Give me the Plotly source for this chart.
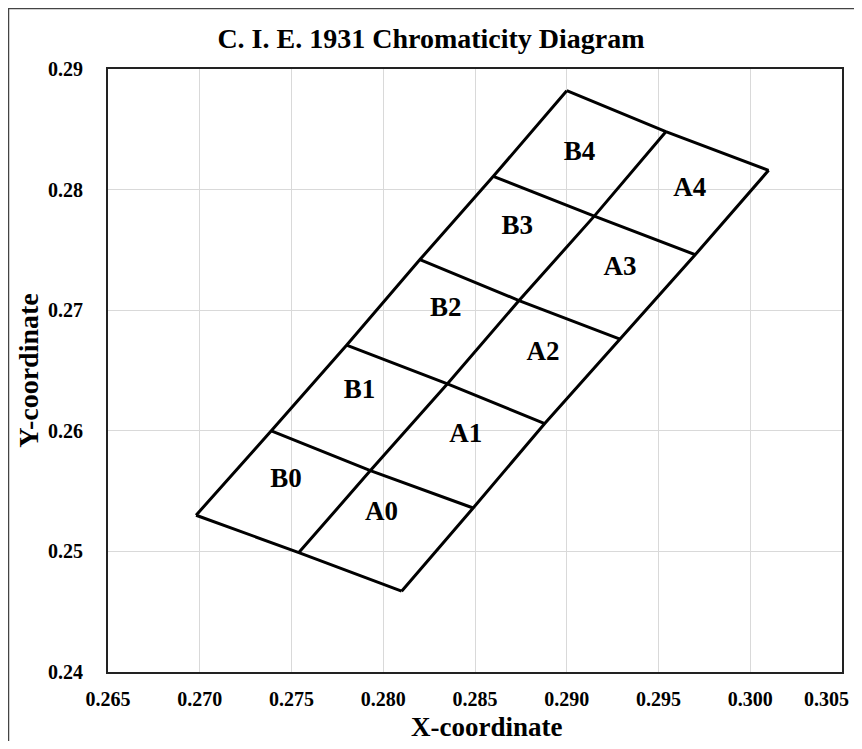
import plotly.graph_objects as go

# Grid points of the bin parallelogram
left_x = [0.2698, 0.2739, 0.2780, 0.2820, 0.2860, 0.2900]
left_y = [0.2530, 0.2600, 0.2671, 0.2742, 0.2811, 0.2882]
mid_x = [0.2754, 0.2793, 0.2835, 0.2874, 0.2915, 0.2954]
mid_y = [0.2499, 0.2567, 0.2639, 0.2708, 0.2778, 0.2848]
right_x = [0.2810, 0.2849, 0.2888, 0.2929, 0.2970, 0.3010]
right_y = [0.2467, 0.2536, 0.2606, 0.2676, 0.2746, 0.2816]

# Bin labels
bin_names = ["B0", "A0", "B1", "A1", "B2", "A2", "B3", "A3", "B4", "A4"]
bin_x = [0.2747, 0.2799, 0.2787, 0.2845, 0.2834, 0.2887, 0.2873, 0.2929, 0.2907, 0.2967]
bin_y = [0.2559, 0.2532, 0.2633, 0.2596, 0.2701, 0.2664, 0.2769, 0.2735, 0.2830, 0.2800]

x_ticks = [0.265, 0.270, 0.275, 0.280, 0.285, 0.290, 0.295, 0.300, 0.305]
x_tick_labels = ["0.265", "0.270", "0.275", "0.280", "0.285", "0.290", "0.295", "0.300", "0.305"]
y_ticks = [0.24, 0.25, 0.26, 0.27, 0.28, 0.29]

FONT = "Liberation Serif, Times New Roman, serif"
line_style = dict(color="black", width=3)
tick_font = dict(family=FONT, size=20, color="black", weight="bold")
axis_title_font = dict(family=FONT, size=28, color="black", weight="bold")

fig = go.Figure()
for xs, ys in [(left_x, left_y), (mid_x, mid_y), (right_x, right_y)]:
    fig.add_trace(go.Scatter(x=xs, y=ys, mode="lines", line=line_style,
                             hoverinfo="skip", showlegend=False))
for i in range(len(left_x)):
    fig.add_trace(go.Scatter(x=[left_x[i], mid_x[i], right_x[i]],
                             y=[left_y[i], mid_y[i], right_y[i]],
                             mode="lines", line=line_style,
                             hoverinfo="skip", showlegend=False))
fig.add_trace(go.Scatter(x=bin_x, y=bin_y, mode="text", text=bin_names,
                         textfont=dict(family=FONT, size=27, color="black", weight="bold"),
                         showlegend=False, hoverinfo="skip"))

# page body adds an 8px margin, so the figure is sized/offset to compensate
W, H = 846, 733
ml, mr, mt, mb = 100, 12, 61, 69
pw, ph = W - ml - mr, H - mt - mb

# last x tick label is pulled inside the chart (as in the original)
shown_ticktext = x_tick_labels[:-1] + [""]

fig.update_layout(
    width=W, height=H,
    margin=dict(l=ml, r=mr, t=mt, b=mb),
    paper_bgcolor="white", plot_bgcolor="white",
    title=dict(text="C. I. E. 1931 Chromaticity Diagram", x=0.5, xref="container",
               y=1 - 30 / H, yref="container", yanchor="middle", xanchor="center",
               font=dict(family=FONT, size=28, color="black", weight="bold")),
    xaxis=dict(range=[0.265, 0.305], tickvals=x_ticks, ticktext=shown_ticktext,
               automargin=False, ticklabeloverflow="allow",
               showgrid=True, gridcolor="#d9d9d9", gridwidth=1,
               zeroline=False, showline=True, linecolor="#222", linewidth=2, mirror=True,
               ticks="", ticklabelstandoff=8, tickfont=tick_font),
    yaxis=dict(range=[0.24, 0.29], tickvals=y_ticks, tickformat=".2f",
               automargin=False, ticklabeloverflow="allow",
               showgrid=True, gridcolor="#d9d9d9", gridwidth=1,
               zeroline=False, showline=True, linecolor="#222", linewidth=2, mirror=True,
               ticks="", ticklabelstandoff=19, tickfont=tick_font,
               title=dict(text="Y-coordinate", standoff=1, font=axis_title_font)),
    annotations=[
        dict(text=x_tick_labels[-1], xref="paper", yref="paper",
             x=(843 - ml) / pw, y=-(27) / ph, xanchor="right", yanchor="middle",
             showarrow=False, font=tick_font),
        dict(text="X-coordinate", xref="paper", yref="paper",
             x=(478 - ml) / pw, y=-(38) / ph, xanchor="center", yanchor="top",
             showarrow=False, font=dict(family=FONT, size=27, color="black", weight="bold")),
    ],
    shapes=[dict(type="rect", xref="paper", yref="paper", layer="above",
                 x0=(0.5 - ml) / pw, x1=(W + 20 - ml) / pw,
                 y0=-(mb + 20) / ph, y1=(H - 0.5 - mb) / ph,
                 line=dict(color="#444", width=1.5), fillcolor="rgba(0,0,0,0)")],
)

fig.write_html("out.html")
